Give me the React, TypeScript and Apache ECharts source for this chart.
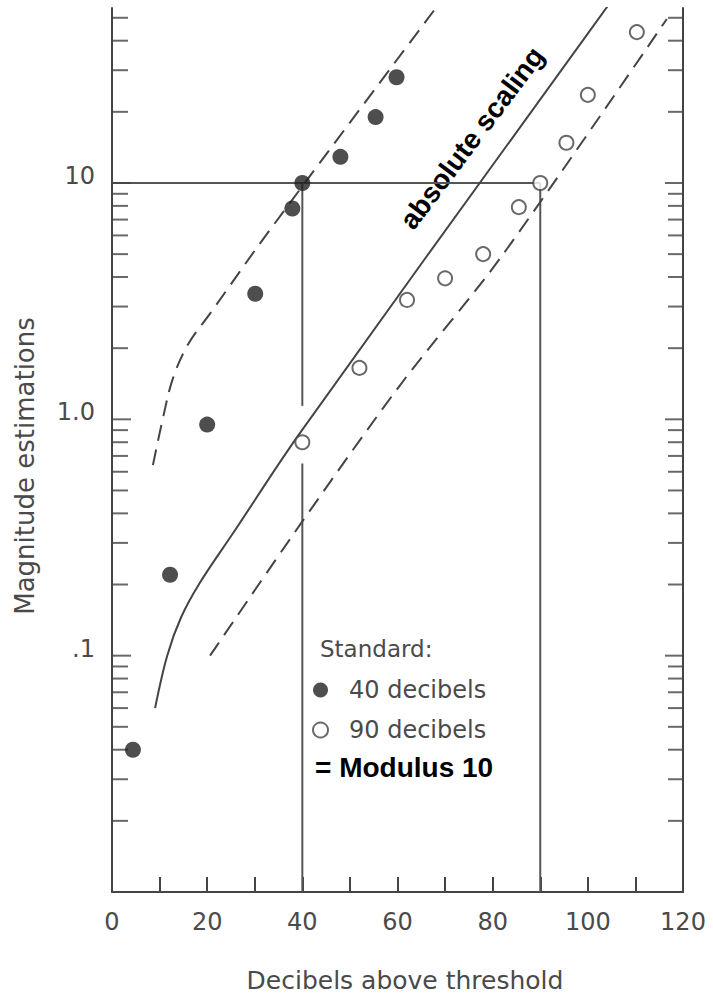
import { useEffect, useRef } from "react";
import * as echarts from "echarts";

// Measured points: magnitude estimates against the 40-dB and 90-dB standards
const std40Db = [4.4, 12.2, 20, 30.1, 37.9, 40, 48, 55.4, 59.8];
const std40Mag = [0.04, 0.22, 0.95, 3.4, 7.8, 10, 12.9, 19, 28];
const std90Db = [40, 52, 62, 70, 78, 85.5, 90, 95.5, 100, 110.3];
const std90Mag = [0.8, 1.65, 3.2, 3.95, 5.0, 7.9, 10, 14.8, 23.6, 43.5];

// Fitted curves
const fit40Db = [8.6, 10.7, 12.8, 16, 20.6, 32.8, 70];
const fit40Mag = [0.64, 1.01, 1.49, 2.08, 2.8, 6.18, 62];
const absDb = [9.05, 11.6, 14.5, 18.5, 25.5, 39.6, 106];
const absMag = [0.06, 0.1, 0.145, 0.204, 0.331, 0.88, 63];
const fit90Db = [20.6, 39.6, 60.6, 81.7, 116.6];
const fit90Mag = [0.1, 0.36, 1.4, 4.84, 49.4];

// Modulus guide lines
const modulus = 10;
const stdLevels = [40, 90];
const gap40 = [1.14, 0.65];

// Axis ranges and ticks
const xRange = [0, 120];
const yRange = [0.01, 55];
const yMajorTicks = [0.1, 1, 10];
const yMinorTicks = [
  0.02, 0.03, 0.04, 0.05, 0.06, 0.07, 0.08, 0.09,
  0.2, 0.3, 0.4, 0.5, 0.6, 0.7, 0.8, 0.9,
  2, 3, 4, 5, 6, 7, 8, 9,
  20, 30, 40, 50,
];
const yLabels: [number, string][] = [
  [10, "10"],
  [1, "1.0"],
  [0.1, ".1"],
];

const INK = "#444";
const TEXT = "#4a4a4a";
const FONT = "DejaVu Sans";

const zip = (xs: number[], ys: number[]) => xs.map((x, i) => [x, ys[i]]);

export default function App() {
  const ref = useRef<HTMLDivElement>(null);

  useEffect(() => {
    if (!ref.current) return;
    const chart = echarts.init(ref.current, undefined, { renderer: "svg" });

    const tickSeries = (x: number, values: number[], len: number, dir: number) => ({
      type: "scatter",
      silent: true,
      clip: false,
      symbol: "rect",
      symbolSize: [len, 2],
      symbolOffset: [(dir * len) / 2, 0],
      itemStyle: { color: INK },
      data: values.map((v) => [x, v]),
      z: 3,
    });

    const guide = (pts: number[][]) => ({
      type: "line",
      silent: true,
      symbol: "none",
      lineStyle: { color: "#555", width: 2 },
      data: pts,
      z: 1,
    });

    const curve = (pts: number[][], dashed: boolean, smooth: number) => ({
      type: "line",
      silent: true,
      symbol: "none",
      smooth,
      lineStyle: {
        color: INK,
        width: 2,
        type: dashed ? [16, 9] : "solid",
      },
      data: pts,
      z: 2,
    });

    chart.setOption({
      animation: false,
      backgroundColor: "#fff",
      grid: { left: 112, right: 30, top: 8, bottom: 105 },
      xAxis: {
        type: "value",
        min: xRange[0],
        max: xRange[1],
        interval: 10,
        axisLine: { show: true, lineStyle: { color: INK, width: 2 } },
        axisTick: { show: true, inside: true, length: 15, lineStyle: { color: INK, width: 2 } },
        axisLabel: {
          margin: 18,
          fontSize: 24,
          color: TEXT,
          fontFamily: FONT,
          formatter: (v: number) => (v % 20 === 0 ? String(v) : ""),
        },
        splitLine: { show: false },
      },
      yAxis: [
        {
          type: "log",
          logBase: 10,
          min: yRange[0],
          max: yRange[1],
          position: "left",
          axisLine: { show: true, lineStyle: { color: INK, width: 2 } },
          axisTick: { show: false },
          minorTick: { show: false },
          splitLine: { show: false },
          axisLabel: {
            margin: 17,
            fontSize: 24,
            color: TEXT,
            fontFamily: FONT,
            verticalAlign: "bottom",
            lineHeight: 14,
            formatter: (v: number) => {
              const hit = yLabels.find(([t]) => Math.abs(v - t) < t * 1e-6);
              return hit ? hit[1] : "";
            },
          },
        },
        {
          type: "log",
          logBase: 10,
          min: yRange[0],
          max: yRange[1],
          position: "right",
          axisLine: { show: true, lineStyle: { color: INK, width: 2 } },
          axisTick: { show: false },
          axisLabel: { show: false },
          splitLine: { show: false },
        },
      ],
      legend: {
        data: ["40 decibels", "90 decibels"],
        orient: "vertical",
        left: 307,
        top: 673,
        itemWidth: 15,
        itemHeight: 15,
        itemGap: 16,
        selectedMode: false,
        textStyle: { fontSize: 24, color: TEXT, fontFamily: FONT, padding: [0, 0, 0, 16] },
      },
      graphic: [
        {
          type: "text",
          x: 25,
          y: 466,
          rotation: Math.PI / 2,
          style: {
            text: "Magnitude estimations",
            fontSize: 26,
            fontFamily: FONT,
            fill: TEXT,
            align: "center",
            verticalAlign: "middle",
          },
        },
        {
          type: "text",
          x: 405,
          y: 980,
          style: {
            text: "Decibels above threshold",
            fontSize: 25,
            fontFamily: FONT,
            fill: TEXT,
            align: "center",
            verticalAlign: "middle",
          },
        },
        {
          type: "text",
          x: 472,
          y: 138,
          rotation: (53 * Math.PI) / 180,
          style: {
            text: "absolute scaling",
            fontSize: 28,
            fontWeight: "bold",
            fontFamily: "Liberation Sans",
            fill: "#000",
            align: "center",
            verticalAlign: "middle",
          },
        },
        {
          type: "text",
          x: 320,
          y: 649,
          style: {
            text: "Standard:",
            fontSize: 23,
            fontFamily: FONT,
            fill: TEXT,
            align: "left",
            verticalAlign: "middle",
          },
        },
        {
          type: "text",
          x: 315,
          y: 767,
          style: {
            text: "= Modulus 10",
            fontSize: 28,
            fontWeight: "bold",
            fontFamily: "Liberation Sans",
            fill: "#000",
            align: "left",
            verticalAlign: "middle",
          },
        },
      ],
      series: [
        guide([[xRange[0], modulus], [stdLevels[1], modulus]]),
        guide([[stdLevels[0], modulus], [stdLevels[0], gap40[0]]]),
        guide([[stdLevels[0], gap40[1]], [stdLevels[0], yRange[0]]]),
        guide([[stdLevels[1], modulus], [stdLevels[1], yRange[0]]]),
        curve(zip(fit40Db, fit40Mag), true, 0.35),
        curve(zip(absDb, absMag), false, 0.35),
        curve(zip(fit90Db, fit90Mag), true, 0.3),
        tickSeries(xRange[0], yMajorTicks, 19, 1),
        tickSeries(xRange[0], yMinorTicks, 16, 1),
        tickSeries(xRange[1], yMajorTicks, 18, -1),
        tickSeries(xRange[1], yMinorTicks, 15, -1),
        {
          name: "40 decibels",
          type: "scatter",
          silent: true,
          symbol: "circle",
          symbolSize: 16,
          itemStyle: { color: "#222" },
          data: zip(std40Db, std40Mag),
          z: 5,
        },
        {
          name: "90 decibels",
          type: "scatter",
          silent: true,
          symbol: "circle",
          symbolSize: 14,
          itemStyle: { color: "#fff", borderColor: INK, borderWidth: 2 },
          data: zip(std90Db, std90Mag),
          z: 5,
        },
      ],
    });

    return () => chart.dispose();
  }, []);

  return (
    <div
      ref={ref}
      style={{ position: "absolute", left: 0, top: 0, width: 713, height: 997 }}
    />
  );
}
